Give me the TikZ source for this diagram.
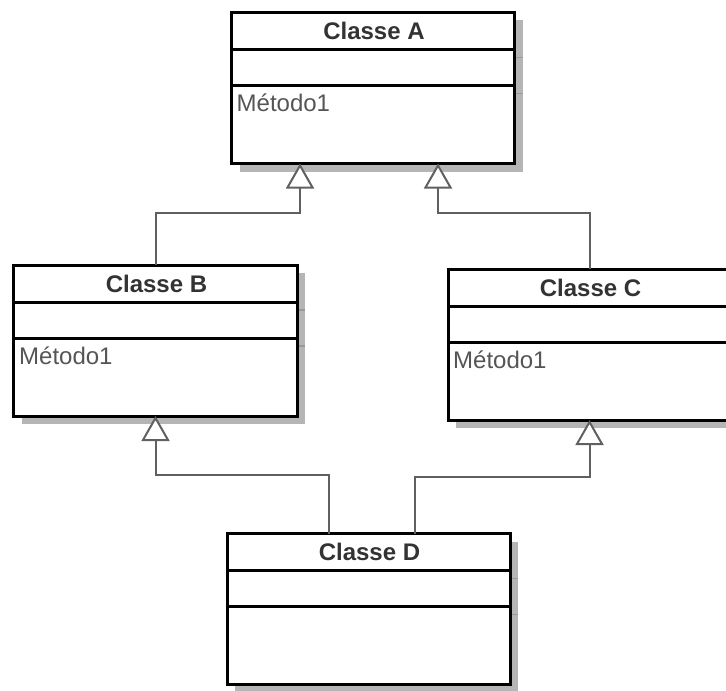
\documentclass[tikz,border=0pt]{standalone}
\usepackage{fontspec}
\setmainfont{Liberation Sans}
\usetikzlibrary{arrows.meta,calc}
\definecolor{shadowc}{HTML}{B5B5B5}
\definecolor{shadowl}{HTML}{999999}
\definecolor{titlec}{HTML}{333333}
\definecolor{methc}{HTML}{555555}
\definecolor{connc}{HTML}{606060}
\tikzset{
  clsbox/.style={draw=black, fill=white, line width=3bp, minimum width=283bp, minimum height=151bp, inner sep=0pt, outer sep=0pt},
  divline/.style={draw=black, line width=3bp},
  shadowbox/.style={fill=shadowc},
  shadowdiv/.style={draw=shadowl, line width=1.5bp},
  clstitle/.style={font=\fontsize{24bp}{28bp}\selectfont\bfseries, text=titlec, inner sep=0pt, anchor=base},
  clsmeth/.style={font=\fontsize{24bp}{28bp}\selectfont, text=methc, inner sep=0pt, anchor=base west},
  gen/.style={draw=connc, line width=2bp, -{Triangle[length=25bp, width=28bp, fill=white]}},
}
% #1 name, #2 x, #3 y (centre), #4 title, #5 method
\newcommand\umlclass[5]{%
  \coordinate (#1c) at (#2,#3);
  \fill[shadowbox] ($(#1c)+(-133.5,-67.5)$) rectangle ($(#1c)+(149.5,83.5)$);
  \draw[shadowdiv] ($(#1c)+(-133.5,-30.5)$) -- ($(#1c)+(149.5,-30.5)$);
  \draw[shadowdiv] ($(#1c)+(-133.5,5.5)$) -- ($(#1c)+(149.5,5.5)$);
  \node[clsbox] (#1) at (#1c) {};
  \draw[divline] ($(#1.north west)+(0,37)$) -- ($(#1.north east)+(0,37)$);
  \draw[divline] ($(#1.north west)+(0,73)$) -- ($(#1.north east)+(0,73)$);
  \node[clstitle] (#1t) at ($(#1.north)+(1,27)$) {#4};
  \node[clsmeth] (#1m) at ($(#1.north west)+(5,99)$) {#5};
}
\begin{document}
\begin{tikzpicture}[x=1bp, y=-1bp]
  \useasboundingbox (0,0) rectangle (726,691);
  \umlclass{A}{373}{88}{Classe A}{Método1}
  \umlclass{B}{155.5}{340.5}{Classe B}{Método1}
  \umlclass{C}{589.5}{344.5}{Classe C}{Método1}
  \umlclass{D}{368.5}{609}{Classe D}{}
  \coordinate (aL) at ($(A.south)+(-73,0)$);
  \coordinate (aR) at ($(A.south)+(65,0)$);
  \coordinate (dL) at ($(D.north)+(-40,0)$);
  \coordinate (dR) at ($(D.north)+(46,0)$);
  \draw[gen] (B.north) |- ($(aL)+(0,49)$) -- (aL);
  \draw[gen] (C.north) |- ($(aR)+(0,49)$) -- (aR);
  \draw[gen] (dL) |- ($(B.south)+(0,59)$) -- (B.south);
  \draw[gen] (dR) |- ($(C.south)+(0,57)$) -- (C.south);
\end{tikzpicture}
\end{document}
